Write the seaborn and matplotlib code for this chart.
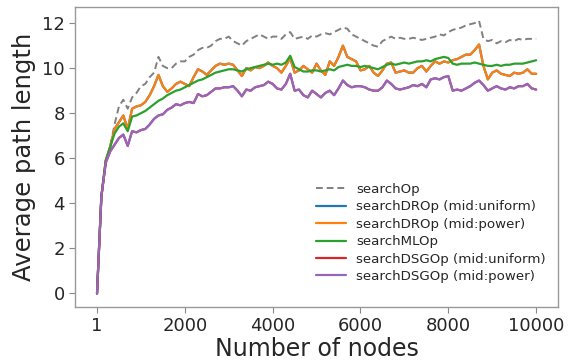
import numpy as np
import pandas as pd
import matplotlib
matplotlib.use("Agg")
import matplotlib.pyplot as plt
import seaborn as sns

# number of nodes: 1, 100, 200, ..., 10000
nodes = [1] + list(range(100, 10001, 100))

search_op = [
    0.0, 4.3, 5.9, 6.5, 7.5, 8.3, 8.6, 8.2, 8.7, 8.9,
    9.2, 9.3, 9.6, 9.8, 10.5, 10.1, 10.0, 10.0, 10.2, 10.3,
    10.3, 10.5, 10.6, 10.8, 10.9, 10.9, 11.0, 11.2, 11.3, 11.3,
    11.4, 11.2, 11.1, 11.0, 11.2, 11.3, 11.4, 11.5, 11.4, 11.3,
    11.4, 11.4, 11.3, 11.5, 11.6, 11.3, 11.35, 11.4, 11.3, 11.45,
    11.4, 11.5, 11.55, 11.5, 11.6, 11.7, 11.8, 11.75, 11.5, 11.4,
    11.3, 11.2, 11.1, 11.0, 10.95, 11.2, 11.3, 11.4, 11.3, 11.35,
    11.3, 11.3, 11.35, 11.3, 11.25, 11.3, 11.35, 11.4, 11.5, 11.45,
    11.6, 11.7, 11.75, 11.8, 11.9, 11.95, 12.0, 12.1, 11.3, 11.2,
    11.25, 11.1, 11.2, 11.15, 11.25, 11.2, 11.3, 11.25, 11.3, 11.3,
    11.3,
]

search_dro_power = [
    0.0, 4.3, 5.9, 6.5, 7.3, 7.6, 7.9, 7.3, 8.2, 8.3,
    8.35, 8.5, 8.8, 9.2, 9.7, 9.2, 8.95, 9.1, 9.3, 9.4,
    9.3, 9.2, 9.6, 9.95, 9.85, 9.7, 9.9, 10.1, 10.2, 10.15,
    10.2, 10.15, 9.9, 9.65, 10.0, 9.9, 10.05, 10.0, 10.1, 10.25,
    10.1, 10.0, 9.8, 10.1, 10.45, 9.8, 9.9, 10.1, 9.95, 9.8,
    10.2, 9.9, 9.7, 10.3, 10.1, 10.5, 11.0, 10.5, 10.4, 10.3,
    9.9, 9.95, 10.1, 9.8, 9.65, 9.9, 10.2, 10.25, 9.8, 9.85,
    9.9, 9.8, 9.8, 10.0, 10.1, 9.85, 10.1, 10.3, 10.2, 10.3,
    10.25, 10.35, 10.4, 10.5, 10.6, 10.6, 10.8, 11.05, 10.1, 9.5,
    9.8, 9.9, 9.75, 9.7, 9.65, 9.8, 9.75, 9.8, 9.95, 9.75,
    9.75,
]
search_dro_uniform = list(search_dro_power)

search_ml = [
    0.0, 4.3, 5.9, 6.5, 7.1, 7.4, 7.55, 7.2, 7.85, 7.9,
    8.0, 8.1, 8.25, 8.4, 8.55, 8.65, 8.8, 8.9, 9.0, 9.05,
    9.15, 9.25, 9.35, 9.45, 9.5, 9.6, 9.7, 9.8, 9.85, 9.9,
    9.95, 9.95, 9.9, 9.85, 9.95, 10.0, 10.05, 10.1, 10.15, 10.2,
    10.15, 10.2, 10.15, 10.25, 10.55, 10.05, 9.95, 9.85, 9.85, 9.9,
    9.9, 9.85, 9.9, 9.95, 9.9, 10.05, 10.1, 10.15, 10.1, 10.1,
    10.05, 10.1, 10.05, 10.0, 9.95, 10.05, 10.15, 10.2, 10.15, 10.2,
    10.25, 10.2, 10.25, 10.3, 10.3, 10.35, 10.3, 10.4, 10.45, 10.5,
    10.45, 10.2, 10.15, 10.2, 10.2, 10.2, 10.25, 10.2, 10.15, 10.1,
    10.1, 10.15, 10.1, 10.15, 10.15, 10.2, 10.2, 10.2, 10.25, 10.3,
    10.35,
]

search_dsg_power = [
    0.0, 4.3, 5.8, 6.3, 6.6, 6.9, 7.05, 6.55, 7.2, 7.15,
    7.25, 7.3, 7.5, 7.75, 7.9, 7.95, 8.15, 8.25, 8.4, 8.35,
    8.45, 8.5, 8.45, 8.85, 8.75, 8.8, 8.95, 9.1, 9.1, 9.15,
    9.15, 9.2, 9.0, 8.75, 9.05, 9.0, 9.15, 9.2, 9.25, 9.4,
    9.3, 9.1, 9.05, 9.3, 9.75, 9.0, 9.05, 8.8, 8.7, 9.0,
    8.85, 8.7, 8.9, 9.0, 8.8, 9.1, 9.45, 9.25, 9.15, 9.2,
    9.2, 9.15, 9.05, 9.0, 9.0, 9.15, 9.45, 9.3, 9.1, 9.05,
    9.1, 9.15, 9.25, 9.2, 9.3, 9.15, 9.5, 9.55, 9.5, 9.6,
    9.65, 9.0, 9.05, 9.0, 9.1, 9.2, 9.35, 9.45, 9.25, 9.0,
    9.1, 9.2, 9.1, 9.05, 9.15, 9.1, 9.2, 9.2, 9.3, 9.1,
    9.05,
]
search_dsg_uniform = list(search_dsg_power)

series = {
    "searchOp": search_op,
    "searchDROp (mid:uniform)": search_dro_uniform,
    "searchDROp (mid:power)": search_dro_power,
    "searchMLOp": search_ml,
    "searchDSGOp (mid:uniform)": search_dsg_uniform,
    "searchDSGOp (mid:power)": search_dsg_power,
}
colors = ["#808080", "#1f77b4", "#ff7f0e", "#2ca02c", "#d62728", "#9467bd"]

df = pd.DataFrame({"nodes": nodes, **series})
long = df.melt(id_vars="nodes", var_name="method", value_name="length")

sns.set_style("ticks")
fig, ax = plt.subplots(figsize=(5.73, 3.6), dpi=100)
fig.subplots_adjust(left=0.131, right=0.974, top=0.98, bottom=0.147)

for (name, vals), c in zip(series.items(), colors):
    sub = long[long["method"] == name]
    if name == "searchOp":
        sns.lineplot(data=sub, x="nodes", y="length", ax=ax, color=c, lw=1.4,
                     label=name, linestyle=(0, (3.5, 2)))
    else:
        sns.lineplot(data=sub, x="nodes", y="length", ax=ax, color=c, lw=1.6,
                     label=name)

ax.set_xticks([1, 2000, 4000, 6000, 8000, 10000])
ax.set_yticks([0, 2, 4, 6, 8, 10, 12])
ax.tick_params(labelsize=13, color="#888888", length=4)
ax.set_xlabel("Number of nodes", fontsize=17, labelpad=1)
ax.set_ylabel("Average path length", fontsize=17.5)
for s in ax.spines.values():
    s.set_visible(True)
    s.set_color("#999999")
    s.set_linewidth(1.0)

leg = ax.legend(loc="lower right", bbox_to_anchor=(1.0, 0.04), fontsize=9.6,
                frameon=True, labelspacing=0.33, handlelength=2.2,
                borderaxespad=0.5)
leg.get_frame().set_edgecolor("white")

fig.savefig("out.png", dpi=100)
